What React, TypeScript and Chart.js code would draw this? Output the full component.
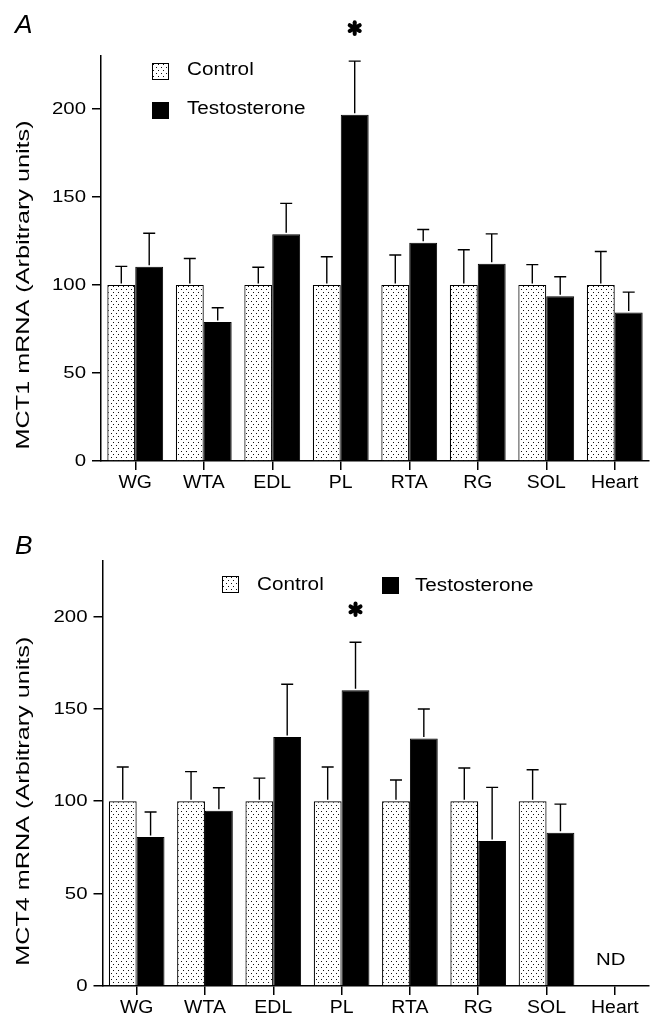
import React, { useEffect, useRef } from "react";
import { Chart, registerables } from "chart.js";
Chart.register(...registerables);

// ---------- data ----------
const categories = ["WG", "WTA", "EDL", "PL", "RTA", "RG", "SOL", "Heart"];
const yTickValues = [0, 50, 100, 150, 200];
const yTickLabels = ["0", "50", "100", "150", "200"];
const seriesNames = ["Control", "Testosterone"];

const mct1Control = [100, 100, 100, 100, 100, 100, 100, 100];
const mct1ControlSem = [10.5, 15, 10, 16, 17, 20, 11.5, 19];
const mct1Testo = [110.3, 79, 128.8, 196.6, 124, 112, 93.6, 84.4];
const mct1TestoSem = [19, 8, 17.5, 30.5, 7.5, 17, 11, 11.5];
const mct1Sig = [false, false, false, true, false, false, false, false];
const mct1ND = [false, false, false, false, false, false, false, false];

const mct4Control = [100, 100, 100, 100, 100, 100, 100, null];
const mct4ControlSem = [18.5, 16, 12.5, 18.5, 11.5, 18, 17, null];
const mct4Testo = [80.7, 94.8, 134.8, 160, 133.9, 78.5, 82.9, null];
const mct4TestoSem = [13.5, 12.5, 28.5, 26, 16, 29, 15.5, null];
const mct4Sig = [false, false, false, true, false, false, false, false];
const mct4ND = [false, false, false, false, false, false, false, true];

const FONT = '"Liberation Sans", Arial, sans-serif';

function makeDots(): CanvasPattern | string {
  const c = document.createElement("canvas");
  c.width = 5;
  c.height = 6;
  const g = c.getContext("2d");
  if (!g) return "#ddd";
  g.fillStyle = "#fff";
  g.fillRect(0, 0, 5, 6);
  g.fillStyle = "#111";
  g.fillRect(1, 1, 1, 1);
  g.fillRect(3, 4, 1, 1);
  return g.createPattern(c, "repeat") || "#ddd";
}

function stretchText(
  ctx: CanvasRenderingContext2D,
  text: string,
  x: number,
  y: number,
  font: string,
  sx: number,
  align: CanvasTextAlign,
  baseline: CanvasTextBaseline,
  rotate = 0
) {
  ctx.save();
  ctx.translate(x, y);
  if (rotate) ctx.rotate(rotate);
  ctx.scale(sx, 1);
  ctx.font = font;
  ctx.fillStyle = "#000";
  ctx.textAlign = align;
  ctx.textBaseline = baseline;
  ctx.fillText(text, 0, 0);
  ctx.restore();
}

interface PanelSpec {
  letter: string;
  letterBaseline: number;
  title: string;
  control: (number | null)[];
  controlSem: (number | null)[];
  testo: (number | null)[];
  testoSem: (number | null)[];
  sig: boolean[];
  nd: boolean[];
  height: number;
  padTop: number;
  yWidth: number;
  xHeight: number;
  legend: { bx: number; by: number; tx: number; ty: number }[];
}

function buildChart(canvas: HTMLCanvasElement, p: PanelSpec) {
  const dots = makeDots();
  const overlay = {
    id: "overlay",
    afterDatasetsDraw(chart: any) {
      const ctx: CanvasRenderingContext2D = chart.ctx;
      const y = chart.scales.y;
      const sems = [p.controlSem, p.testoSem];
      ctx.save();
      ctx.strokeStyle = "#000";
      ctx.lineWidth = 1.4;
      chart.data.datasets.forEach((ds: any, di: number) => {
        const meta = chart.getDatasetMeta(di);
        meta.data.forEach((bar: any, i: number) => {
          const v = ds.data[i];
          const s = sems[di][i];
          if (v == null || s == null) return;
          const top = y.getPixelForValue(v + s);
          const x = bar.x;
          ctx.beginPath();
          ctx.moveTo(x, bar.y - 1.5);
          ctx.lineTo(x, top);
          ctx.moveTo(x - 6, top);
          ctx.lineTo(x + 6, top);
          ctx.stroke();
          if (di === 1 && p.sig[i]) {
            const cy = top - 33;
            ctx.save();
            ctx.lineWidth = 4;
            ctx.lineCap = "round";
            for (let k = 0; k < 3; k++) {
              const a = Math.PI / 2 + (k * Math.PI) / 3;
              ctx.beginPath();
              ctx.moveTo(x - Math.cos(a) * 5.8, cy - Math.sin(a) * 5.8);
              ctx.lineTo(x + Math.cos(a) * 5.8, cy + Math.sin(a) * 5.8);
              ctx.stroke();
            }
            ctx.restore();
          }
        });
      });
      ctx.restore();
    },
    afterDraw(chart: any) {
      const ctx: CanvasRenderingContext2D = chart.ctx;
      const y = chart.scales.y;
      const xs = chart.scales.x;
      const area = chart.chartArea;
      // y tick labels
      yTickValues.forEach((v, i) => {
        stretchText(ctx, yTickLabels[i], area.left - 15, y.getPixelForValue(v) + 0.5, `17px ${FONT}`, 1.2, "right", "middle");
      });
      // x tick labels
      categories.forEach((c, i) => {
        stretchText(ctx, c, xs.getPixelForValue(i), area.bottom + 27, `18px ${FONT}`, 1.08, "center", "alphabetic");
      });
      // y title
      stretchText(ctx, p.title, 24, y.getPixelForValue(100), `18px ${FONT}`, 1.4, "center", "middle", -Math.PI / 2);
      // panel letter
      stretchText(ctx, p.letter, 15, p.letterBaseline, `italic 25px ${FONT}`, 1.05, "left", "alphabetic");
      // legend
      p.legend.forEach((L, i) => {
        ctx.save();
        ctx.fillStyle = i === 0 ? (dots as any) : "#000";
        ctx.fillRect(L.bx, L.by, 17, 17);
        ctx.strokeStyle = "#000";
        ctx.lineWidth = 1;
        ctx.strokeRect(L.bx + 0.5, L.by + 0.5, 16, 16);
        ctx.restore();
        stretchText(ctx, seriesNames[i], L.tx, L.ty, `18px ${FONT}`, 1.15, "left", "alphabetic");
      });
      // not detected
      p.nd.forEach((nd, i) => {
        if (!nd) return;
        stretchText(ctx, "ND", xs.getPixelForValue(i) - 4, y.getPixelForValue(0) - 21, `17px ${FONT}`, 1.2, "center", "alphabetic");
      });
    },
  };

  return new Chart(canvas, {
    type: "bar",
    data: {
      labels: categories,
      datasets: [
        {
          label: seriesNames[0],
          data: p.control,
          backgroundColor: dots as any,
          borderColor: "#000",
          borderWidth: 1.2,
          categoryPercentage: 0.815,
          barPercentage: 1,
        },
        {
          label: seriesNames[1],
          data: p.testo,
          backgroundColor: "#000",
          borderColor: "#000",
          borderWidth: 1,
          categoryPercentage: 0.815,
          barPercentage: 1,
        },
      ],
    },
    options: {
      responsive: false,
      animation: false,
      layout: { padding: { top: p.padTop, right: 11, left: 0, bottom: 0 } },
      plugins: { legend: { display: false }, tooltip: { enabled: false }, title: { display: false } },
      scales: {
        x: {
          type: "category",
          grid: { offset: false, drawOnChartArea: false, drawTicks: true, tickLength: 9, color: "#000", lineWidth: 1.5 },
          border: { display: true, color: "#000", width: 1.5 },
          ticks: { display: false, autoSkip: false },
          afterFit: (s: any) => {
            s.height = p.xHeight;
          },
        },
        y: {
          min: 0,
          max: 230,
          grid: { drawOnChartArea: false, drawTicks: true, tickLength: 9, color: "#000", lineWidth: 1.5 },
          border: { display: true, color: "#000", width: 1.5 },
          ticks: { display: false, stepSize: 50, includeBounds: false },
          afterFit: (s: any) => {
            s.width = p.yWidth;
          },
        },
      },
    },
    plugins: [overlay],
  } as any);
}

const panelA: PanelSpec = {
  letter: "A",
  letterBaseline: 33,
  title: "MCT1 mRNA (Arbitrary units)",
  control: mct1Control,
  controlSem: mct1ControlSem,
  testo: mct1Testo,
  testoSem: mct1TestoSem,
  sig: mct1Sig,
  nd: mct1ND,
  height: 510,
  padTop: 56,
  yWidth: 101,
  xHeight: 49,
  legend: [
    { bx: 152, by: 63, tx: 187, ty: 75 },
    { bx: 152, by: 102, tx: 187, ty: 114 },
  ],
};

const panelB: PanelSpec = {
  letter: "B",
  letterBaseline: 44,
  title: "MCT4 mRNA (Arbitrary units)",
  control: mct4Control,
  controlSem: mct4ControlSem,
  testo: mct4Testo,
  testoSem: mct4TestoSem,
  sig: mct4Sig,
  nd: mct4ND,
  height: 511,
  padTop: 51,
  yWidth: 102.5,
  xHeight: 35,
  legend: [
    { bx: 222, by: 66, tx: 257, ty: 80 },
    { bx: 382, by: 67, tx: 415, ty: 81 },
  ],
};

function Panel({ spec }: { spec: PanelSpec }) {
  const ref = useRef<HTMLCanvasElement>(null);
  useEffect(() => {
    if (!ref.current) return;
    const ch = buildChart(ref.current, spec);
    return () => ch.destroy();
  }, [spec]);
  return <canvas ref={ref} width={660} height={spec.height} style={{ display: "block", width: 660, height: spec.height }} />;
}

export default function App() {
  return (
    <div style={{ position: "absolute", left: 0, top: 0, width: 660, height: 1021, background: "#fff" }}>
      <Panel spec={panelA} />
      <Panel spec={panelB} />
    </div>
  );
}
